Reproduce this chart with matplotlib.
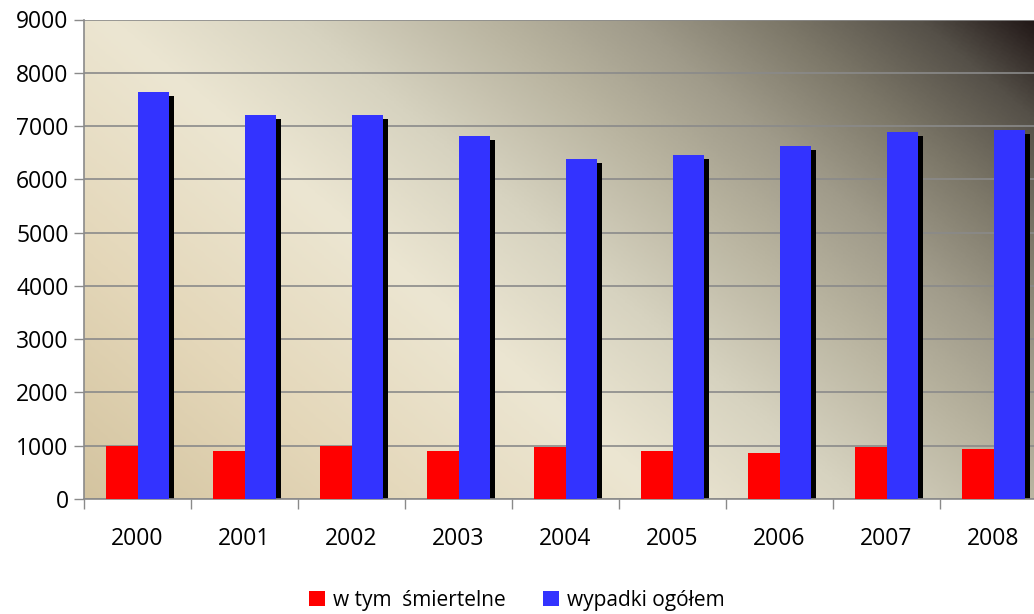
import numpy as np
import matplotlib
matplotlib.use("Agg")
import matplotlib.pyplot as plt
from matplotlib.colors import LinearSegmentedColormap

plt.rcParams['font.family'] = ['Open Sans', 'DejaVu Sans']

# Data
years = ['2000', '2001', '2002', '2003', '2004', '2005', '2006', '2007', '2008']
fatal = [1000, 900, 1000, 900, 975, 900, 860, 975, 940]
total = [7630, 7200, 7200, 6810, 6380, 6450, 6620, 6890, 6920]

labels = ['w tym  śmiertelne', 'wypadki ogółem']

fig = plt.figure(figsize=(10.34, 6.14), dpi=100)
ax = fig.add_axes([84 / 1034, 115 / 614, 963 / 1034, 479.5 / 614])

x = np.arange(len(years))
w = 0.29

# background gradient: tan bottom-left, light diagonal band, dark top-right
smax = 1.58
stops = [
    (0.00, (212, 196, 160)),
    (0.30, (228, 215, 185)),
    (0.60, (236, 230, 210)),
    (0.80, (215, 211, 192)),
    (1.00, (185, 180, 160)),
    (1.15, (160, 155, 138)),
    (1.30, (125, 120, 105)),
    (1.45, (85, 80, 72)),
    (1.58, (28, 18, 18)),
]
bg = LinearSegmentedColormap.from_list(
    'bg', [(p / smax, tuple(c / 255 for c in col)) for p, col in stops])
u, v = np.meshgrid(np.linspace(0, 1, 400), np.linspace(0, 1, 300))
s = u + 0.58 * v
ax.imshow(s, cmap=bg, vmin=0, vmax=smax, origin='lower', aspect='auto',
          extent=[-0.5, len(years) - 0.5, 0, 9000], zorder=-1, interpolation='bilinear')

# shadows behind the blue bars
ax.bar(x + w / 2 + 0.047, np.array(total) - 75, w, color='black', zorder=2)
ax.bar(x - w / 2, fatal, w, color='#ff0000', label=labels[0], zorder=3)
ax.bar(x + w / 2, total, w, color='#3333ff', label=labels[1], zorder=3)

ax.set_xlim(-0.5, len(years) - 0.5)
ax.set_ylim(0, 9000)
ax.set_yticks(range(0, 9001, 1000))
ax.set_xticks(x)
ax.set_xticklabels(years)
ax.set_xticks(np.arange(-0.5, len(years), 1), minor=True)

ax.grid(axis='y', color='#8a8a8a', linewidth=1.2)
ax.set_axisbelow(True)
for side in ['top', 'right']:
    ax.spines[side].set_visible(False)
for side in ['left', 'bottom']:
    ax.spines[side].set_color('#8a8a8a')
    ax.spines[side].set_linewidth(1.2)

ax.tick_params(axis='x', which='major', length=0, pad=20, labelsize=16.5)
ax.tick_params(axis='x', which='minor', length=7, color='#8a8a8a', width=1)
ax.tick_params(axis='y', length=7, color='#8a8a8a', width=1, labelsize=16.5, pad=4)

fig.legend(loc='lower center', bbox_to_anchor=(0.5, -0.025), ncol=2, frameon=False,
           fontsize=15, handlelength=0.75, handleheight=0.75, handletextpad=0.4,
           columnspacing=1.8)

fig.savefig('out.png', dpi=100)
